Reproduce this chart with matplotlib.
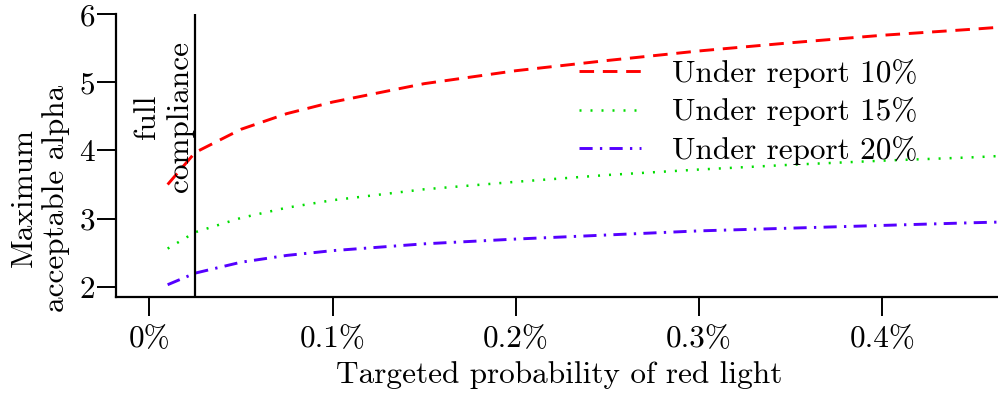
import matplotlib
matplotlib.use("Agg")
import matplotlib.pyplot as plt

plt.rcParams['font.family'] = 'serif'
plt.rcParams['font.serif'] = ['cmr10', 'DejaVu Serif']
plt.rcParams['mathtext.fontset'] = 'cm'
plt.rcParams['axes.unicode_minus'] = False

# probability of red light (in %)
prob = [0.01, 0.025, 0.05, 0.075, 0.1, 0.15, 0.2, 0.25, 0.3, 0.35, 0.4, 0.45, 0.465]
alpha_10 = [3.50, 3.97, 4.31, 4.54, 4.71, 4.98, 5.17, 5.32, 5.46, 5.58, 5.69, 5.78, 5.81]
alpha_15 = [2.56, 2.80, 3.01, 3.16, 3.27, 3.43, 3.54, 3.64, 3.72, 3.79, 3.85, 3.90, 3.92]
alpha_20 = [2.03, 2.20, 2.36, 2.46, 2.53, 2.63, 2.70, 2.76, 2.82, 2.86, 2.90, 2.94, 2.95]
full_compliance = 0.025

xticks = [0, 0.1, 0.2, 0.3, 0.4]
xtick_labels = ['0%', '0.1%', '0.2%', '0.3%', '0.4%']
yticks = [2, 3, 4, 5, 6]

fs = 22.5

fig = plt.figure(figsize=(9.98, 3.93), dpi=100)
ax = fig.add_axes([0.1162, 0.2443, 0.8838, 0.7197])

ax.plot(prob, alpha_10, color='#ff0000', linestyle=(0, (5, 3)), linewidth=2.1,
        label='Under report 10%')
ax.plot(prob, alpha_15, color='#00dd00', linestyle=(0, (0.8, 3.6)), linewidth=1.8,
        label='Under report 15%')
ax.plot(prob, alpha_20, color='#5500ff', linestyle=(0, (4.5, 2.5, 0.8, 2.5)), linewidth=2.1,
        label='Under report 20%')

ax.axvline(full_compliance, color='black', linewidth=1.6)
ax.text(full_compliance - 0.0005, 4.5, 'full\ncompliance', rotation=90, ha='right', va='center',
        multialignment='center', fontsize=fs, linespacing=1.25)

ax.set_xlim(-0.0182, 0.4632)
ax.set_ylim(1.85, 6.0)
ax.set_xticks(xticks)
ax.set_xticklabels(xtick_labels)
ax.set_yticks(yticks)

for s in ['top', 'right']:
    ax.spines[s].set_visible(False)
for s in ['left', 'bottom']:
    ax.spines[s].set_linewidth(1.6)

ax.tick_params(direction='out', length=14, width=1.4, labelsize=fs, pad=1)
ax.tick_params(axis='x', pad=6)

ax.set_xlabel('Targeted probability of red light', fontsize=fs)
ax.set_ylabel('Maximum\nacceptable alpha', fontsize=fs, linespacing=1.2)
ax.xaxis.set_label_coords(0.503, -0.225)
ax.yaxis.set_label_coords(-0.052, 0.35)

ax.legend(loc='upper right', bbox_to_anchor=(0.941, 0.94), frameon=False, fontsize=fs,
          handlelength=2.0, handletextpad=1.0, labelspacing=0.3)

fig.savefig('out.png', dpi=100)
